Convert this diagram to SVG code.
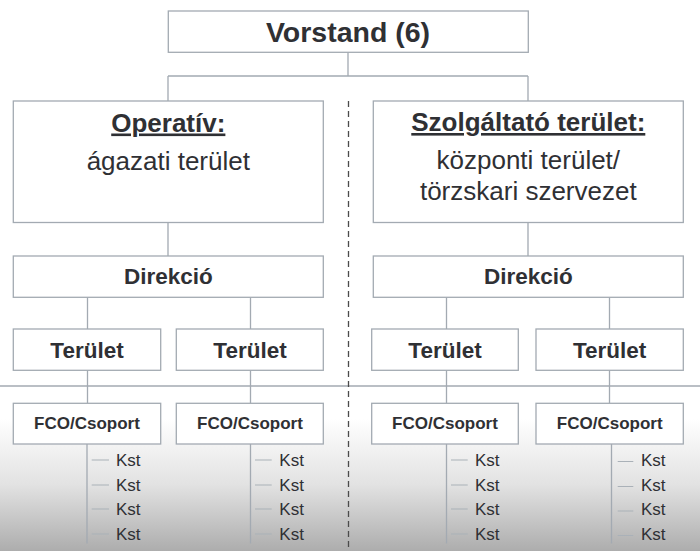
<svg xmlns="http://www.w3.org/2000/svg" width="700" height="551" viewBox="0 0 700 551">
<defs>
<linearGradient id="bg" x1="0" y1="0" x2="0" y2="1">
<stop offset="0" stop-color="#ffffff"/>
<stop offset="0.76" stop-color="#ffffff"/>
<stop offset="0.88" stop-color="#e2e2e2"/>
<stop offset="1" stop-color="#adadad"/>
</linearGradient>
<style>
.box{fill:#ffffff;stroke:#a3aab2;stroke-width:1.3}
.ln{stroke:#a3aab2;stroke-width:1.3;fill:none}
.tick{stroke:#aab1b8;stroke-width:1.2;fill:none}
.div{stroke:#4a4a4a;stroke-width:1.3;stroke-dasharray:6 4;fill:none}
text{font-family:"Liberation Sans",Arial,Helvetica,sans-serif;fill:#2f3034;text-anchor:middle}
.b{font-weight:bold}
.kst{text-anchor:start;font-size:17px}
</style>
</defs>
<rect x="0" y="0" width="700" height="551" fill="url(#bg)"/>

<g id="connectors">
<path class="ln" d="M348 52V76M168 76H528M168 76V101M528 76V101"/>
<path class="ln" d="M168 222V256M528 222V256"/>
<path class="ln" d="M87.5 297V329M250.5 297V329M446.5 297V329M609.5 297V329"/>
<path class="ln" d="M0 386H700"/>
<path class="ln" d="M87.5 370V403M250.5 370V403M446.5 370V403M609.5 370V403"/>
<path class="ln" d="M87 444V543.5M250.5 444V543.5M446.5 444V543.5M611.5 444V543.5"/>
<path class="tick" d="M91.7 460H109M91.7 485H109M91.7 509H109M91.7 534H109"/>
<path class="tick" d="M255 460H271.7M255 485H271.7M255 509H271.7M255 534H271.7"/>
<path class="tick" d="M451 460H467.7M451 485H467.7M451 509H467.7M451 534H467.7"/>
<path class="tick" d="M617.7 461.5H633.3M617.7 486.5H633.3M617.7 511H633.3M617.7 535.5H633.3"/>
<path class="div" d="M348.5 101V551"/>
</g>

<g id="vorstand">
<rect class="box" x="168.3" y="11" width="360" height="41.3"/>
<text class="b" x="348" y="41.7" font-size="28.5">Vorstand (6)</text>
</g>

<g id="operativ">
<rect class="box" x="13.3" y="101" width="310" height="121.5"/>
<text class="b" x="168.3" y="131.5" font-size="26" text-decoration="underline">Operatív:</text>
<text x="168.3" y="170" font-size="26">ágazati terület</text>
</g>

<g id="szolgaltato">
<rect class="box" x="373.3" y="101" width="310" height="121.5"/>
<text class="b" x="528.3" y="131" font-size="26" text-decoration="underline">Szolgáltató terület:</text>
<text x="528.3" y="169" font-size="26">központi terület/</text>
<text x="528.3" y="200" font-size="26">törzskari szervezet</text>
</g>

<g id="direkcio-1">
<rect class="box" x="13.3" y="256" width="310" height="41.3"/>
<text class="b" x="168.3" y="284" font-size="22.5">Direkció</text>
</g>
<g id="direkcio-2">
<rect class="box" x="373.3" y="256" width="310" height="41.3"/>
<text class="b" x="528.3" y="284" font-size="22.5">Direkció</text>
</g>

<g id="terulet-1">
<rect class="box" x="13.3" y="329" width="147.4" height="41.3"/>
<text class="b" x="87" y="358.3" font-size="22.5">Terület</text>
</g>
<g id="terulet-2">
<rect class="box" x="176.3" y="329" width="147" height="41.3"/>
<text class="b" x="250" y="358.3" font-size="22.5">Terület</text>
</g>
<g id="terulet-3">
<rect class="box" x="371.7" y="329" width="146.6" height="41.3"/>
<text class="b" x="445" y="358.3" font-size="22.5">Terület</text>
</g>
<g id="terulet-4">
<rect class="box" x="536" y="329" width="147.3" height="41.3"/>
<text class="b" x="609.7" y="358.3" font-size="22.5">Terület</text>
</g>

<g id="fco-1">
<rect class="box" x="13.3" y="403.3" width="147.4" height="40.7"/>
<text class="b" x="87" y="429.3" font-size="17">FCO/Csoport</text>
</g>
<g id="fco-2">
<rect class="box" x="176.3" y="403.3" width="147" height="40.7"/>
<text class="b" x="250" y="429.3" font-size="17">FCO/Csoport</text>
</g>
<g id="fco-3">
<rect class="box" x="371.7" y="403.3" width="146.6" height="40.7"/>
<text class="b" x="445" y="429.3" font-size="17">FCO/Csoport</text>
</g>
<g id="fco-4">
<rect class="box" x="536" y="403.3" width="147.3" height="40.7"/>
<text class="b" x="609.7" y="429.3" font-size="17">FCO/Csoport</text>
</g>

<g id="kst-1">
<text class="kst" x="116" y="465.7">Kst</text>
<text class="kst" x="116" y="490.5">Kst</text>
<text class="kst" x="116" y="514.8">Kst</text>
<text class="kst" x="116" y="539.5">Kst</text>
</g>
<g id="kst-2">
<text class="kst" x="279.3" y="465.7">Kst</text>
<text class="kst" x="279.3" y="490.5">Kst</text>
<text class="kst" x="279.3" y="514.8">Kst</text>
<text class="kst" x="279.3" y="539.5">Kst</text>
</g>
<g id="kst-3">
<text class="kst" x="475" y="465.7">Kst</text>
<text class="kst" x="475" y="490.5">Kst</text>
<text class="kst" x="475" y="514.8">Kst</text>
<text class="kst" x="475" y="539.5">Kst</text>
</g>
<g id="kst-4">
<text class="kst" x="641" y="465.7">Kst</text>
<text class="kst" x="641" y="490.5">Kst</text>
<text class="kst" x="641" y="514.8">Kst</text>
<text class="kst" x="641" y="539.5">Kst</text>
</g>
</svg>
